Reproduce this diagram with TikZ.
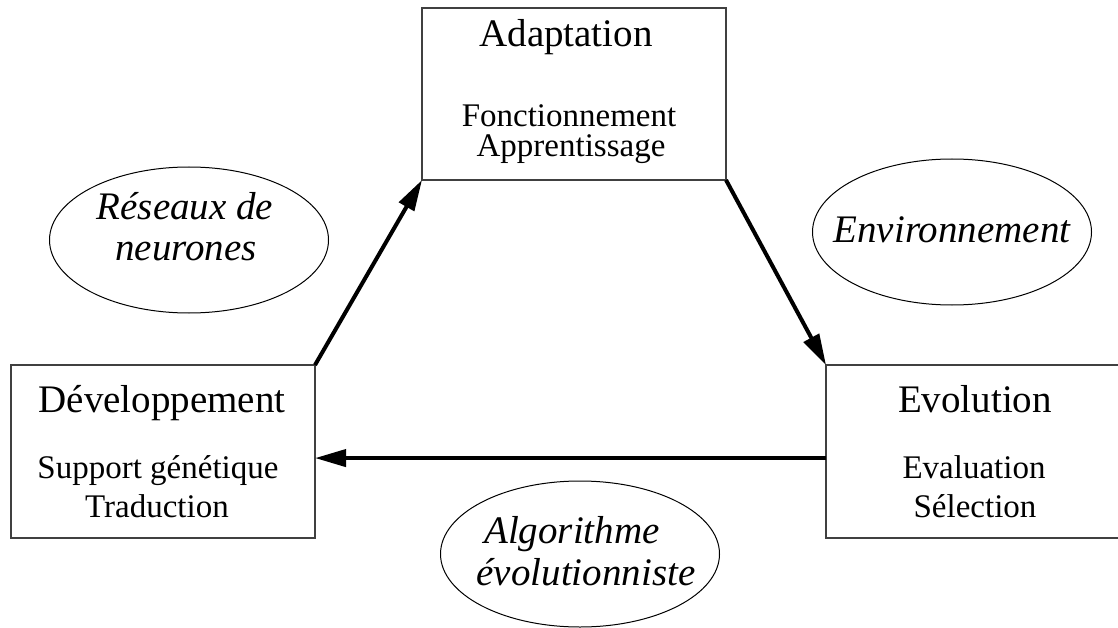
\documentclass[tikz,border=0pt]{standalone}
\usepackage{fontspec}
\setmainfont{Liberation Serif}
\usetikzlibrary{arrows.meta,shapes.geometric,calc}
\begin{document}
\begin{tikzpicture}[x=1pt,y=-1pt,
  box/.style={draw=black!75,line width=1.5pt,rectangle,inner sep=0pt,outer sep=0pt,minimum height=173pt},
  oval/.style={draw,line width=1pt,ellipse,inner sep=0pt,outer sep=0pt,minimum width=279pt,minimum height=146pt},
  big/.style={anchor=base,inner sep=0pt,font=\fontsize{39}{44}\selectfont},
  small/.style={anchor=base,inner sep=0pt,font=\fontsize{33}{38}\selectfont},
  ital/.style={anchor=base,inner sep=0pt,font=\fontsize{39}{44}\selectfont\itshape},
  flow/.style={line width=4pt,-{Triangle[length=31pt,width=17pt]}}]
\clip (0,0) rectangle (1118,628);
% boxes
\node[box,minimum width=304pt,minimum height=172pt] (adapt) at (574,94) {};
\node[box,minimum width=304pt] (dev) at (163,451.5) {};
\node[box,minimum width=298pt] (evol) at (975,451.5) {};
% ellipses
\node[oval] (res) at (189,240) {};
\node[oval] (env) at (952,232) {};
\node[oval] (algo) at (580,554) {};
% texts
\node[big] (tadapt) at (566,47) {Adaptation};
\node[small] (tfonc) at (569,127) {Fonctionnement};
\node[small] (tappr) at (571,157) {Apprentissage};
\node[big] (tdev) at (162,412) {Développement};
\node[small] (tsupp) at (158,478) {Support génétique};
\node[small] (ttrad) at (157,517) {Traduction};
\node[big] (tevol) at (975,412) {Evolution};
\node[small] (teval) at (974,478) {Evaluation};
\node[small] (tsel) at (975,517) {Sélection};
\node[ital] (tres1) at (185,220) {Réseaux de};
\node[ital] (tres2) at (186,260) {neurones};
\node[ital] (tenv) at (952,243) {Environnement};
\node[ital] (talg1) at (572,543) {Algorithme};
\node[ital] (talg2) at (586,585) {évolutionniste};
% arrows
\draw[flow] (dev.north east) -- (adapt.south west);
\draw[flow] (adapt.south east) -- (evol.north west);
\draw[flow] ($(evol.north west)!0.538!(evol.south west)$) -- ($(dev.north east)!0.538!(dev.south east)$);
\end{tikzpicture}
\end{document}
